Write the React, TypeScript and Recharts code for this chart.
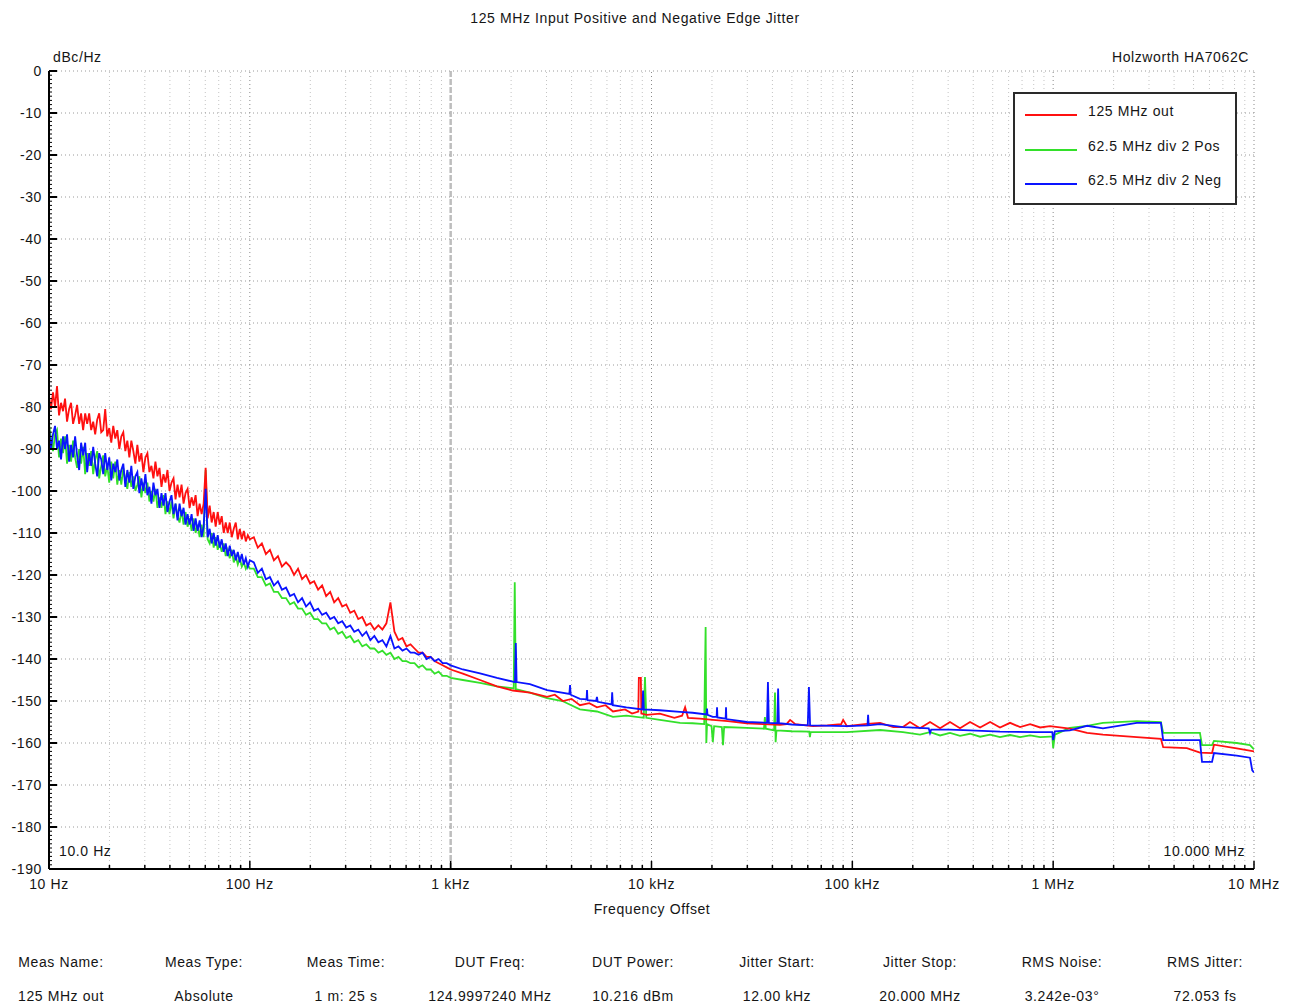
import { Legend, Line, LineChart, ReferenceLine, XAxis, YAxis } from 'recharts'

const FONT = '"Liberation Sans", Arial, sans-serif'
const TEXT_COLOR = '#151515'

// shared frequency grid, 10 Hz .. 100 Hz (Hz)
const LOW_HZ = [
  10, 10.23, 10.47, 10.72, 10.96, 11.22, 11.48, 11.75, 12.02, 12.3,
  12.59, 12.88, 13.18, 13.49, 13.8, 14.13, 14.45, 14.79, 15.14, 15.49,
  15.85, 16.22, 16.6, 16.98, 17.38, 17.78, 18.2, 18.62, 19.05, 19.5,
  19.95, 20.42, 20.89, 21.38, 21.88, 22.39, 22.91, 23.44, 23.99, 24.55,
  25.12, 25.7, 26.3, 26.92, 27.54, 28.18, 28.84, 29.51, 30.2, 30.9,
  31.62, 32.36, 33.11, 33.88, 34.67, 35.48, 36.31, 37.15, 38.02, 38.9,
  39.81, 40.74, 41.69, 42.66, 43.65, 44.67, 45.71, 46.77, 47.86, 48.98,
  50.12, 51.29, 52.48, 53.7, 54.95, 56.23, 57.54, 58.88, 60.26, 61.66,
  63.1, 64.57, 66.07, 67.61, 69.18, 70.79, 72.44, 74.13, 75.86, 77.62,
  79.43, 81.28, 83.18, 85.11, 87.1, 89.13, 91.2, 93.33, 95.5, 97.72,
  100,
]

const RED_LOW = [
  -77.5, -80.5, -76.5, -80, -75, -82, -79, -81, -78, -83.5,
  -80.5, -79, -84, -82, -79.5, -84, -81.5, -85.5, -81.5, -84,
  -81.5, -85.5, -83.5, -86.5, -83, -81.5, -86, -85.5, -80.5, -87,
  -85, -88.5, -84.5, -87.5, -85.5, -90, -87, -86, -90.5, -88,
  -92, -88, -90.5, -93.5, -89, -93, -91, -95.5, -92, -91,
  -95.5, -94, -97, -93, -96.5, -94.5, -99, -96, -98, -95,
  -100, -98, -97, -102, -98.5, -101.5, -98.5, -103, -100.5, -99.5,
  -104, -101.5, -103.5, -101, -106, -103, -105.5, -103, -94.5, -106.5,
  -103.5, -107.5, -105, -108.5, -105, -108, -106, -110, -107.5, -110,
  -107.5, -111, -109, -107.5, -111.5, -109, -111.5, -109.5, -112, -110.5,
  -111.5,
]

const GREEN_LOW = [
  -84, -87.5, -90.5, -86.5, -85.5, -92, -87.5, -91, -87, -93.5,
  -89, -93, -88, -92, -94.5, -90, -93.5, -89.5, -96, -91,
  -94, -90.5, -96, -92.5, -90.5, -97, -94, -91.5, -96.5, -94,
  -98, -93, -97, -93, -98.5, -95, -98.5, -94.5, -97.5, -99.5,
  -95.5, -99, -96.5, -100, -98.5, -96.5, -101.5, -98, -100.5, -98,
  -102.5, -100, -102.5, -99.5, -104, -101.5, -104, -101, -105.5, -102.5,
  -105.5, -102.5, -106.5, -103, -106, -107.5, -104.5, -108, -105, -108.5,
  -106.5, -109.5, -106.5, -110, -108, -111, -108, -111, -95, -111.5,
  -112.5, -110, -113.5, -111, -114, -112.5, -114.5, -112.5, -115.5, -114,
  -116, -114, -117, -115.5, -117.5, -116, -118, -117, -118.5, -117.5,
  -118.5,
]

const BLUE_LOW = [
  -85, -90, -86.5, -84.5, -90, -88, -92.5, -87, -90, -86.5,
  -93, -89, -92, -87, -91.5, -95, -88.5, -91.5, -88.5, -95.5,
  -91, -94, -89.5, -93.5, -96.5, -91, -92.5, -96, -91, -95,
  -92, -97.5, -93.5, -95.5, -92.5, -97.5, -95, -93.5, -99, -95,
  -98, -94, -99.5, -96.5, -95.5, -100.5, -97, -100, -96, -101,
  -99, -103, -98, -101, -99.5, -104, -100.5, -103.5, -100.5, -105,
  -102.5, -101, -105.5, -103, -107, -103, -106, -104, -108, -105.5,
  -108, -105.5, -109.5, -106.5, -109.5, -107, -111, -108.5, -99.5, -111,
  -109, -112.5, -110, -113, -110.5, -113.5, -111.5, -114.5, -112.5, -115.5,
  -113, -115.5, -114, -116.5, -114.5, -117, -115, -117.5, -116, -118,
  -116.5,
]

// shared frequency grid, 100 Hz .. 1 kHz (Hz)
const MID_HZ = [
  104.7, 109.6, 114.8, 120.2, 125.9, 131.8, 138, 144.5, 151.4, 158.5,
  166, 173.8, 182, 190.5, 199.5, 208.9, 218.8, 229.1, 239.9, 251.2,
  263, 275.4, 288.4, 302, 316.2, 331.1, 346.7, 363.1, 380.2, 398.1,
  416.9, 436.5, 457.1, 478.6, 501.2, 524.8, 549.5, 575.4, 602.6, 631,
  660.7, 691.8, 724.4, 758.6, 794.3, 831.8, 871, 912, 955, 1000,
]

const RED_MID = [
  -111, -113.5, -112.5, -115, -114, -116.5, -115.5, -118, -117, -118,
  -120, -118.5, -121, -120, -122, -121.5, -123.5, -122.5, -125, -124,
  -126.5, -125.5, -127.5, -127, -129, -128.5, -130.5, -130, -132, -131.5,
  -133, -132, -133, -131.5, -126.5, -133.5, -135.5, -135, -137, -136.5,
  -137.5, -138.5, -138.5, -139.5, -139.5, -140.5, -141, -141.5, -142, -142.5,
]

const GREEN_MID = [
  -118.5, -120.5, -120.5, -122.5, -122, -124, -124, -125.5, -125.5, -127,
  -126.5, -128, -128, -129.5, -129, -130.5, -130.5, -131.5, -131.5, -133,
  -132.5, -134, -133.5, -135, -134.5, -136, -135.5, -137, -136.5, -137.5,
  -137.5, -138.5, -138, -139, -138.5, -140, -139.5, -140.5, -140.5, -141,
  -141, -142, -141.5, -142.5, -142.5, -143.5, -143, -144, -144, -144.5,
]

const BLUE_MID = [
  -117, -119.5, -118.5, -121, -120.5, -122.5, -121.5, -123.5, -123, -125,
  -124.5, -126.5, -125.5, -127.5, -126.5, -128.5, -128, -129.5, -129, -130.5,
  -130, -131.5, -131, -132.5, -132, -133.5, -133, -134.5, -133.5, -135.5,
  -134.5, -136, -135.5, -137, -134.5, -137.5, -137, -138, -137.5, -138.5,
  -138.5, -139, -138.5, -140, -139.5, -140.5, -140, -141, -141, -141.5,
]

// [Hz, dBc/Hz] above 1 kHz, spurs included
const RED_HIGH: [number, number][] = [
  [1150, -143.5], [1400, -145], [1700, -146.5], [2040, -147.5], [2480, -148],
  [3020, -149], [3300, -148.5], [3620, -150], [4000, -149.5], [4400, -151],
  [4900, -150.5], [5350, -151.5], [5900, -151], [6430, -152.5], [7380, -152],
  [8000, -153], [8600, -152.5], [8650, -144.5], [8850, -144.5], [8900, -153],
  [9500, -153.3], [11000, -153], [13000, -154], [14200, -153.5], [14700, -151.5],
  [15200, -154], [17400, -154.2], [20200, -154.5], [24000, -154.8], [29800, -155.3],
  [36000, -155.5], [43600, -155.7], [47000, -155.5], [49000, -154.5], [52000, -155.5],
  [63700, -156], [75000, -155.8], [88000, -155.5], [90000, -154.5], [94000, -156],
  [115000, -155.5], [137500, -155.2], [160000, -156.2], [178700, -156.2], [193600, -155],
  [217200, -156.5], [243700, -155], [273500, -156.5], [306400, -155], [343700, -156.5],
  [385600, -155], [432600, -156.3], [485400, -155], [543600, -156.3], [609900, -155.2],
  [684300, -156.2], [767800, -155.5], [861400, -156.3], [964500, -156], [1210000, -156.6],
  [1475000, -157.6], [1770000, -158], [2610000, -158.6], [3440000, -159], [3530000, -161],
  [4630000, -161.2], [5380000, -162.3], [6180000, -162.4], [6320000, -160.4], [8200000, -161.3],
  [10000000, -162],
]

const GREEN_HIGH: [number, number][] = [
  [1150, -145], [1400, -145.7], [1700, -146.5], [2060, -147], [2085, -121.7],
  [2110, -147.2], [2480, -148], [3020, -149.3], [3600, -150], [4400, -152],
  [5350, -152.5], [6430, -153.8], [7500, -153.5], [9150, -154], [9280, -144.3],
  [9420, -154], [11000, -154.5], [13870, -155.2], [16000, -155.3], [18300, -155.5],
  [18600, -132.4], [18750, -160], [18900, -155.5], [19900, -156], [20200, -159.8],
  [20500, -156], [22400, -156.2], [22700, -160.5], [23000, -156.2], [29800, -156.4],
  [36300, -156.6], [36700, -153.8], [37100, -156.6], [40800, -157], [41200, -148],
  [41500, -159.8], [41900, -157], [50000, -157.2], [61000, -157.3], [61500, -158.6],
  [62000, -157.4], [94000, -157.4], [137500, -156.9], [178700, -157.4], [217200, -158],
  [243700, -157.4], [273500, -158.2], [306400, -157.6], [343700, -158.3], [385600, -157.8],
  [432600, -158.5], [485400, -158], [543600, -158.6], [609900, -158.1], [684300, -158.6],
  [767800, -158.2], [861400, -158.6], [964500, -158.5], [990000, -158.5], [1000000, -161.2],
  [1020000, -158], [1210000, -156.4], [1475000, -155.9], [1770000, -155.2], [2610000, -154.8],
  [3440000, -155], [3530000, -157.6], [5380000, -157.6], [5510000, -160.5], [6180000, -160.5],
  [6320000, -159.5], [8200000, -160], [9550000, -160.5], [10000000, -161.5],
]

const BLUE_HIGH: [number, number][] = [
  [1150, -142.5], [1400, -143.4], [1700, -144.5], [2040, -145.4], [2090, -145.5],
  [2110, -136.2], [2130, -145.5], [2480, -146], [3020, -147.4], [3900, -148.3],
  [3930, -146.2], [3960, -148.5], [4400, -149.5], [4750, -149.6], [4775, -147.4],
  [4800, -149.8], [5300, -150], [5350, -149], [5400, -150.2], [6330, -150.8],
  [6370, -147.9], [6420, -151], [7500, -151.5], [9000, -152], [9080, -147.5],
  [9160, -152], [11000, -152.2], [13870, -152.6], [16000, -152.8], [18800, -153.2],
  [18900, -151.8], [19000, -153.3], [20200, -153.8], [21100, -153.8], [21200, -151.5],
  [21300, -153.9], [23400, -154.2], [23500, -151.5], [23600, -154.3], [29800, -155],
  [37600, -155.2], [38000, -145.5], [38400, -155.2], [42300, -155.3], [42700, -147],
  [43100, -155.3], [50000, -155.6], [60000, -155.8], [60800, -146.7], [61600, -155.8],
  [94000, -156], [119000, -155.8], [119800, -153.3], [120600, -155.8], [137500, -155.5],
  [178700, -156.2], [240000, -156.5], [243700, -157.6], [247000, -156.8], [306400, -156.8],
  [385600, -157], [543600, -157.3], [831000, -157.4], [990000, -157.4], [1000000, -159.3],
  [1020000, -157.2], [1210000, -157], [1475000, -155.9], [1770000, -156.5], [2610000, -155.2],
  [3440000, -155.2], [3530000, -159.3], [5380000, -159.3], [5510000, -164.5], [6180000, -164.5],
  [6320000, -162.4], [8200000, -163], [9550000, -163.5], [9800000, -166.5], [10000000, -167],
]

const MAJOR_HZ = [10, 100, 1000, 10000, 100000, 1000000, 10000000]
const MAJOR_LABELS = ['10 Hz', '100 Hz', '1 kHz', '10 kHz', '100 kHz', '1 MHz', '10 MHz']
const MINOR_STEPS = [2, 3, 4, 5, 6, 7, 8, 9]
const Y_MAJOR = [0, -10, -20, -30, -40, -50, -60, -70, -80, -90, -100, -110, -120, -130, -140, -150, -160, -170, -180, -190]

const TABLE_HEADERS = ['Meas Name:', 'Meas Type:', 'Meas Time:', 'DUT Freq:', 'DUT Power:', 'Jitter Start:', 'Jitter Stop:', 'RMS Noise:', 'RMS Jitter:']
const TABLE_VALUES = ['125 MHz out', 'Absolute', '1 m: 25 s', '124.9997240 MHz', '10.216 dBm', '12.00 kHz', '20.000 MHz', '3.242e-03°', '72.053 fs']
const TABLE_CENTERS = [61, 204, 346, 490, 633, 777, 920, 1062, 1205]

const X_TICKS = MAJOR_HZ.flatMap((decade) =>
  decade === 10000000 ? [decade] : [decade, ...MINOR_STEPS.map((m) => m * decade)],
)
const Y_TICKS = Array.from({ length: 191 }, (_, i) => -i)

type Point = { hz: number; db: number }

function buildSeries(lowDb: number[], midDb: number[], high: [number, number][]): Point[] {
  const low = LOW_HZ.map((hz, i) => ({ hz, db: lowDb[i] }))
  const mid = MID_HZ.map((hz, i) => ({ hz, db: midDb[i] }))
  return [...low, ...mid, ...high.map(([hz, db]) => ({ hz, db }))]
}

const SERIES = [
  { key: 'green', name: '62.5 MHz div 2 Pos', color: '#33e02a', data: buildSeries(GREEN_LOW, GREEN_MID, GREEN_HIGH) },
  { key: 'red', name: '125 MHz out', color: '#ff1010', data: buildSeries(RED_LOW, RED_MID, RED_HIGH) },
  { key: 'blue', name: '62.5 MHz div 2 Neg', color: '#0a14ff', data: buildSeries(BLUE_LOW, BLUE_MID, BLUE_HIGH) },
]
const LEGEND_ORDER = ['red', 'green', 'blue']

const textStyle = { fontFamily: FONT, fontSize: 14, letterSpacing: 0.6, fill: TEXT_COLOR }

function XTick(props: any) {
  const { x, y, payload } = props
  const idx = MAJOR_HZ.indexOf(payload.value)
  const major = idx >= 0
  return (
    <g>
      <line x1={x} x2={x} y1={y} y2={y - (major ? 8 : 4)} stroke="#000" strokeWidth={1.5} />
      {major ? (
        <text x={x} y={y + 20} textAnchor="middle" style={textStyle}>
          {MAJOR_LABELS[idx]}
        </text>
      ) : null}
    </g>
  )
}

function YTick(props: any) {
  const { x, y, payload } = props
  const major = Y_MAJOR.includes(payload.value)
  return (
    <g>
      <line x1={x} x2={x + (major ? 8 : 3)} y1={y} y2={y} stroke="#000" strokeWidth={major ? 2 : 1} />
      {major ? (
        <text x={x - 7} y={y + 5} textAnchor="end" style={textStyle}>
          {payload.value}
        </text>
      ) : null}
    </g>
  )
}

function LegendBox() {
  return (
    <div
      style={{
        boxSizing: 'border-box',
        width: 224,
        height: 113,
        border: '2px solid #2a2a2a',
        background: '#fff',
        paddingTop: 0,
      }}
    >
      {LEGEND_ORDER.map((key) => {
        const s = SERIES.find((item) => item.key === key)!
        return (
          <div key={key} style={{ display: 'flex', alignItems: 'center', height: 34.5 }}>
            <span
              style={{ display: 'inline-block', width: 52, height: 2, background: s.color, marginLeft: 10, marginTop: 8 }}
            />
            <span style={{ marginLeft: 11, fontFamily: FONT, fontSize: 14, letterSpacing: 0.6, color: TEXT_COLOR }}>
              {s.name}
            </span>
          </div>
        )
      })}
    </div>
  )
}

function Label({ text, left, top, align = 'left' }: { text: string; left: number; top: number; align?: string }) {
  const width = 600
  const x = align === 'center' ? left - width / 2 : align === 'right' ? left - width : left
  return (
    <div
      style={{
        position: 'absolute',
        left: x,
        top: top - 9,
        width,
        height: 18,
        lineHeight: '18px',
        textAlign: align as any,
        fontFamily: FONT,
        fontSize: 14,
        letterSpacing: 0.6,
        color: TEXT_COLOR,
        whiteSpace: 'nowrap',
        pointerEvents: 'none',
      }}
    >
      {text}
    </div>
  )
}

export default function App() {
  return (
    <div style={{ position: 'absolute', left: 0, top: 0, width: 1293, height: 1007, background: '#fff', overflow: 'hidden' }}>
      <LineChart width={1293} height={1007} margin={{ top: 71, right: 39, bottom: 108, left: 0 }}>
        <XAxis
          type="number"
          dataKey="hz"
          scale="log"
          domain={[10, 10000000]}
          allowDataOverflow
          ticks={X_TICKS}
          interval={0}
          height={30}
          tickSize={0}
          tickMargin={0}
          tickLine={false}
          tick={<XTick />}
          axisLine={{ stroke: '#000', strokeWidth: 2 }}
        />
        <YAxis
          type="number"
          dataKey="db"
          domain={[-190, 0]}
          allowDataOverflow
          ticks={Y_TICKS}
          interval={0}
          width={49}
          tickSize={0}
          tickMargin={0}
          tickLine={false}
          tick={<YTick />}
          axisLine={{ stroke: '#000', strokeWidth: 2 }}
        />
        {X_TICKS.filter((hz) => hz !== 10 && hz !== 1000).map((hz) => (
          <ReferenceLine
            key={`vx-${hz}`}
            x={hz}
            stroke={MAJOR_HZ.includes(hz) ? '#8a8a8a' : '#c4c4c4'}
            strokeDasharray="1 3"
          />
        ))}
        <ReferenceLine x={1000} stroke="#bdbdbd" strokeWidth={2.5} strokeDasharray="6 2" />
        {Y_MAJOR.filter((db) => db !== -190).map((db) => (
          <ReferenceLine key={`hy-${db}`} y={db} stroke="#9a9a9a" strokeDasharray="1 3" />
        ))}
        {SERIES.map((s) => (
          <Line
            key={s.key}
            data={s.data}
            dataKey="db"
            name={s.name}
            type="linear"
            stroke={s.color}
            strokeWidth={1.8}
            dot={false}
            activeDot={false}
            isAnimationActive={false}
          />
        ))}
        <Legend
          layout="horizontal"
          align="center"
          verticalAlign="middle"
          content={() => <LegendBox />}
          wrapperStyle={{ left: 1013, top: 92, width: 224, height: 113 }}
        />
      </LineChart>

      <Label text="125 MHz Input Positive and Negative Edge Jitter" left={635} top={18} align="center" />
      <Label text="dBc/Hz" left={53} top={57} />
      <Label text="Holzworth HA7062C" left={1249} top={57} align="right" />
      <Label text="10.0 Hz" left={59} top={851} />
      <Label text="10.000 MHz" left={1245} top={851} align="right" />
      <Label text="Frequency Offset" left={652} top={909} align="center" />
      {TABLE_HEADERS.map((t, i) => (
        <Label key={`h-${t}`} text={t} left={TABLE_CENTERS[i]} top={962} align="center" />
      ))}
      {TABLE_VALUES.map((t, i) => (
        <Label key={`v-${t}`} text={t} left={TABLE_CENTERS[i]} top={996} align="center" />
      ))}
    </div>
  )
}
